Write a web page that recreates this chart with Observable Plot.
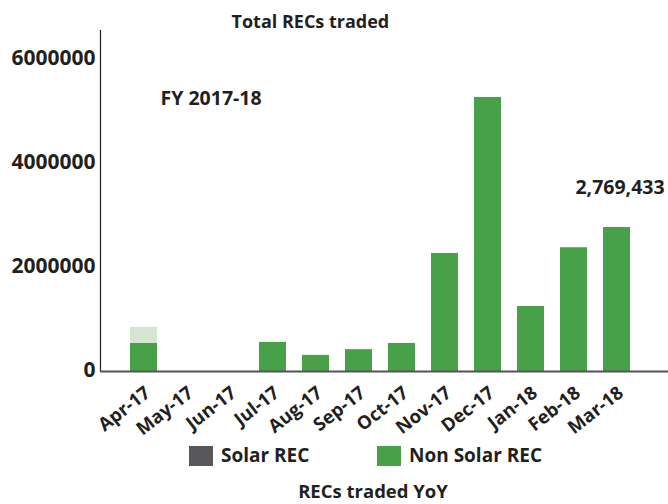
<!DOCTYPE html>
<html>
<head>
<meta charset="utf-8">
<script src="https://cdn.jsdelivr.net/npm/d3@7"></script>
<script src="https://cdn.jsdelivr.net/npm/@observablehq/plot@0.6"></script>
<style>
  html, body { margin: 0; padding: 0; background: #fff; }
  #wrap { position: relative; width: 668px; height: 504px; font-family: "Open Sans", sans-serif; color: #231f20; }
  #chart { position: absolute; left: 0; top: 0; }
  .leg { position: absolute; font-weight: 700; font-size: 19px; line-height: 22px; white-space: nowrap; }
  .sw { position: absolute; width: 24px; height: 20px; }
  #caption { position: absolute; top: 479px; left: 0; width: 746px; text-align: center; font-weight: 700; font-size: 18.5px; line-height: 24px; }
</style>
</head>
<body>
<div id="wrap">
  <div id="chart"></div>
  <div id="legend"></div>
  <div id="caption">RECs traded YoY</div>
</div>
<script>
const months = ["Apr-17","May-17","Jun-17","Jul-17","Aug-17","Sep-17","Oct-17","Nov-17","Dec-17","Jan-18","Feb-18","Mar-18"];
const nonSolarRec = [540000, 0, 0, 560000, 310000, 420000, 540000, 2270000, 5270000, 1250000, 2380000, 2769433];
const fadedRec = [310000, 0, 0, 0, 0, 0, 0, 0, 0, 0, 0, 0];
const solarRec = [0, 0, 0, 0, 0, 0, 0, 0, 0, 0, 0, 0];
const yTicks = [0, 2000000, 4000000, 6000000];
const seriesNames = ["Solar REC", "Non Solar REC", "Faded"];
const seriesColors = ["#58585a", "#48a048", "#d6e5d0"];
const title = "Total RECs traded";
const subtitle = "FY 2017-18";
const lastLabel = "2,769,433";

const rows = [];
months.forEach((m, i) => {
  rows.push({month: m, series: "Non Solar REC", value: nonSolarRec[i], order: 0});
  rows.push({month: m, series: "Faded", value: fadedRec[i], order: 1});
  rows.push({month: m, series: "Solar REC", value: solarRec[i], order: 2});
});

const W = 668, H = 440;
const chart = Plot.plot({
  width: W,
  height: H,
  marginTop: 30,
  marginLeft: 100,
  marginRight: 0,
  marginBottom: H - 371,
  style: {fontFamily: "Open Sans, sans-serif", color: "#231f20", background: "transparent"},
  x: {domain: months, range: [114, 647], padding: 0.37},
  y: {domain: [0, 6558000]},
  color: {domain: seriesNames, range: seriesColors},
  marks: [
    Plot.barY(rows, Plot.stackY({x: "month", y: "value", fill: "series", order: "order", inset: 0})),
    Plot.frame({anchor: "left", stroke: "#231f20", strokeWidth: 1.2}),
    Plot.ruleY([0], {stroke: "#555", strokeWidth: 2}),
    Plot.axisY({ticks: yTicks, tickFormat: d => String(d), tickSize: 0, tickPadding: 5, dy: -1, fontSize: 21, fontWeight: 700, label: null}),
    Plot.axisX({tickSize: 0, tickRotate: -38, tickPadding: 12, dx: 4, dy: 7, fontSize: 18.5, fontWeight: 700, label: null}),
    Plot.text([title], {frameAnchor: "top-left", dx: 131, dy: -15, text: d => d, textAnchor: "start", fontSize: 18, fontWeight: 700}),
    Plot.text([subtitle], {frameAnchor: "top-left", dx: 60, dy: 61, text: d => d, textAnchor: "start", fontSize: 19.5, fontWeight: 700}),
    Plot.text([{m: months[11], v: nonSolarRec[11]}], {x: "m", y: "v", text: () => lastLabel, dx: 3, dy: -40, fontSize: 19.5, fontWeight: 700})
  ]
});
document.getElementById("chart").appendChild(chart);

const legend = document.getElementById("legend");
const legendItems = [
  {name: seriesNames[0], color: seriesColors[0], sx: 189, tx: 221},
  {name: seriesNames[1], color: seriesColors[1], sx: 377, tx: 409}
];
legendItems.forEach(it => {
  const s = document.createElement("div");
  s.className = "sw";
  s.style.left = it.sx + "px";
  s.style.top = "446px";
  s.style.background = it.color;
  legend.appendChild(s);
  const t = document.createElement("div");
  t.className = "leg";
  t.style.left = it.tx + "px";
  t.style.top = "444px";
  t.textContent = it.name;
  legend.appendChild(t);
});
</script>
</body>
</html>
